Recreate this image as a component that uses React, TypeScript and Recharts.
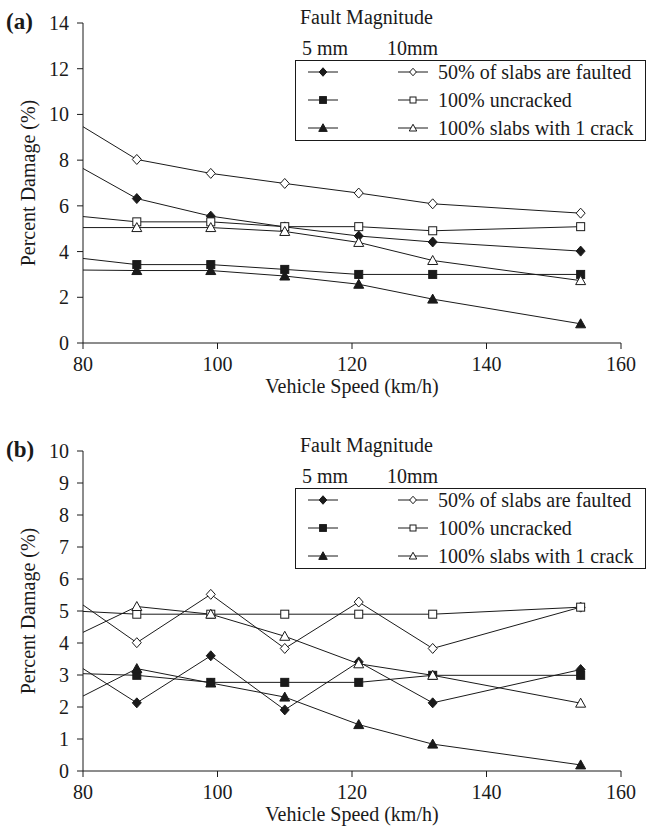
import { LineChart, Line, XAxis, YAxis } from "recharts";

// vehicle speeds (km/h); first point lies left of the visible axis
const speeds = [77, 88, 99, 110, 121, 132, 154];

// panel (a)
const faultedA5 = [8.13, 6.32, 5.55, 5.08, 4.68, 4.42, 4.02];
const faultedA10 = [10.0, 8.03, 7.42, 6.98, 6.56, 6.09, 5.68];
const uncrackedA5 = [3.8, 3.43, 3.43, 3.22, 3.0, 3.0, 3.0];
const uncrackedA10 = [5.62, 5.3, 5.3, 5.09, 5.09, 4.91, 5.09];
const crackA5 = [3.2, 3.17, 3.17, 2.93, 2.57, 1.92, 0.84];
const crackA10 = [5.05, 5.05, 5.05, 4.88, 4.4, 3.61, 2.73];

// panel (b)
const faultedB5 = [3.6, 2.13, 3.6, 1.91, 3.41, 2.13, 3.17];
const faultedB10 = [5.63, 4.01, 5.52, 3.83, 5.28, 3.83, 5.12];
const uncrackedB5 = [3.06, 2.99, 2.77, 2.77, 2.77, 2.99, 2.99];
const uncrackedB10 = [5.02, 4.9, 4.9, 4.9, 4.9, 4.9, 5.12];
const crackB5 = [2.02, 3.2, 2.75, 2.31, 1.45, 0.84, 0.19];
const crackB10 = [4.03, 5.14, 4.9, 4.21, 3.35, 2.99, 2.12];

const xTicks = [80, 100, 120, 140, 160];
const yTicksA = [0, 2, 4, 6, 8, 10, 12, 14];
const yTicksB = [0, 1, 2, 3, 4, 5, 6, 7, 8, 9, 10];

const legendLabels = ["50% of slabs are faulted", "100% uncracked", "100% slabs with 1 crack"];
const shapes = ["diamond", "square", "triangle"];

const FONT = "Liberation Serif, Times New Roman, serif";
const INK = "#1a1a1a";
const txt = { fontFamily: FONT, fontSize: 20 };

const toRows = (cols: number[][]) =>
  speeds.map((s, i) => ({
    speed: s,
    f5: cols[0][i],
    f10: cols[1][i],
    u5: cols[2][i],
    u10: cols[3][i],
    c5: cols[4][i],
    c10: cols[5][i],
  }));

const dataA = toRows([faultedA5, faultedA10, uncrackedA5, uncrackedA10, crackA5, crackA10]);
const dataB = toRows([faultedB5, faultedB10, uncrackedB5, uncrackedB10, crackB5, crackB10]);

const series = [
  { key: "f5", shape: "diamond", filled: true },
  { key: "f10", shape: "diamond", filled: false },
  { key: "u5", shape: "square", filled: true },
  { key: "u10", shape: "square", filled: false },
  { key: "c5", shape: "triangle", filled: true },
  { key: "c10", shape: "triangle", filled: false },
];

const Marker = ({ cx, cy, shape, filled, s = 1 }: any) => {
  const fill = filled ? INK : "#fff";
  if (shape === "diamond")
    return (
      <polygon
        points={`${cx},${cy - 5 * s} ${cx + 4.5 * s},${cy} ${cx},${cy + 5 * s} ${cx - 4.5 * s},${cy}`}
        fill={fill}
        stroke={INK}
        strokeWidth={1}
      />
    );
  if (shape === "square")
    return <rect x={cx - 4 * s} y={cy - 4 * s} width={8 * s} height={8 * s} fill={fill} stroke={INK} strokeWidth={1} />;
  return (
    <polygon
      points={`${cx},${cy - 5 * s} ${cx + 5 * s},${cy + 4 * s} ${cx - 5 * s},${cy + 4 * s}`}
      fill={fill}
      stroke={INK}
      strokeWidth={1}
    />
  );
};

const XTick = ({ x, y, payload }: any) => (
  <text x={x} y={y + 15} textAnchor="middle" style={txt} fill={INK}>
    {payload.value}
  </text>
);

const YTick = ({ x, y, payload }: any) => (
  <text x={x} y={y + 7} textAnchor="end" style={txt} fill={INK}>
    {payload.value}
  </text>
);

const XTitle = ({ viewBox }: any) => (
  <text x={viewBox.x + viewBox.width / 2} y={viewBox.y + 50} textAnchor="middle" style={txt} fill={INK}>
    Vehicle Speed (km/h)
  </text>
);

const YTitle = ({ viewBox }: any) => {
  const cx = 28;
  const cy = viewBox.y + viewBox.height / 2;
  return (
    <text
      x={cx}
      y={cy + 7}
      transform={`rotate(-90 ${cx} ${cy})`}
      textAnchor="middle"
      style={txt}
      fill={INK}
    >
      Percent Damage (%)
    </text>
  );
};

const FaultLegend = () => (
  <>
    <div style={{ position: "absolute", left: 300, top: 6, fontSize: 20, lineHeight: "22px" }}>Fault Magnitude</div>
    <div style={{ position: "absolute", left: 302, top: 37, fontSize: 20, lineHeight: "22px" }}>5 mm</div>
    <div style={{ position: "absolute", left: 387, top: 37, fontSize: 20, lineHeight: "22px" }}>10mm</div>
    <svg width={351} height={81} style={{ position: "absolute", left: 295, top: 60 }}>
      <rect x={0.5} y={0.5} width={350} height={80} fill="#fff" stroke={INK} strokeWidth={1} />
      {legendLabels.map((lab, i) => {
        const y = 12 + i * 28;
        return (
          <g key={lab}>
            <line x1={13} x2={43} y1={y} y2={y} stroke={INK} />
            <Marker cx={28} cy={y} shape={shapes[i]} filled s={0.85} />
            <line x1={103} x2={133} y1={y} y2={y} stroke={INK} />
            <Marker cx={118} cy={y} shape={shapes[i]} filled={false} s={0.75} />
            <text x={143} y={y + 7} style={txt} fill={INK}>
              {lab}
            </text>
          </g>
        );
      })}
    </svg>
  </>
);

const Panel = ({ data, yMax, yTicks, letter, top }: any) => (
  <div style={{ position: "absolute", left: 0, top, width: 649, height: 410 }}>
    <LineChart
      width={649}
      height={410}
      data={data}
      margin={{ top: 23, right: 28, left: 23, bottom: 12 }}
      style={{ fontFamily: FONT }}
    >
      <XAxis
        dataKey="speed"
        type="number"
        domain={[80, 160]}
        allowDataOverflow
        ticks={xTicks}
        height={55}
        tickSize={6}
        tickMargin={7}
        tick={<XTick />}
        stroke={INK}
        label={<XTitle />}
      />
      <YAxis
        type="number"
        domain={[0, yMax]}
        allowDataOverflow
        ticks={yTicks}
        width={60}
        tickSize={6}
        tickMargin={8}
        tick={<YTick />}
        stroke={INK}
        label={<YTitle />}
      />
      {series.map((s) => (
        <Line
          key={s.key}
          dataKey={s.key}
          stroke={INK}
          strokeWidth={1}
          isAnimationActive={false}
          activeDot={false}
          dot={(p: any) =>
            p.payload.speed < 80 ? (
              <g key={`${s.key}-${p.index}`} />
            ) : (
              <Marker key={`${s.key}-${p.index}`} cx={p.cx} cy={p.cy} shape={s.shape} filled={s.filled} />
            )
          }
        />
      ))}
    </LineChart>
    <div style={{ position: "absolute", left: 6, top: 9, fontSize: 23, fontWeight: "bold", lineHeight: "26px" }}>
      ({letter})
    </div>
    <FaultLegend />
  </div>
);

export default function App() {
  return (
    <div
      style={{
        position: "relative",
        width: 649,
        height: 831,
        overflow: "hidden",
        background: "#fff",
        fontFamily: FONT,
        color: INK,
      }}
    >
      <style>{`body{margin:0;}`}</style>
      <Panel data={dataA} yMax={14} yTicks={yTicksA} letter="a" top={0} />
      <Panel data={dataB} yMax={10} yTicks={yTicksB} letter="b" top={428} />
    </div>
  );
}
